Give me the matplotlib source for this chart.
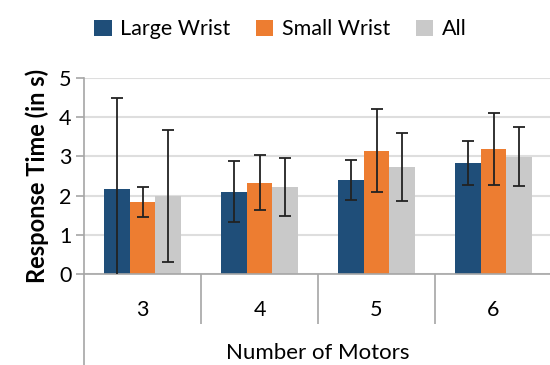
import numpy as np
import matplotlib
matplotlib.use('Agg')
from matplotlib import pyplot as plt
from matplotlib.lines import Line2D

plt.rcParams['font.family'] = ['Lato', 'DejaVu Sans']

motors = ['3', '4', '5', '6']
series = ['Large Wrist', 'Small Wrist', 'All']
large = [2.17, 2.10, 2.40, 2.84]
large_err = [2.32, 0.78, 0.52, 0.56]
small = [1.83, 2.33, 3.14, 3.18]
small_err = [0.38, 0.71, 1.06, 0.92]
all_ = [1.99, 2.23, 2.73, 2.99]
all_err = [1.68, 0.74, 0.86, 0.75]
colors = ['#1f4e79', '#ed7d31', '#c9c9c9']

fig = plt.figure(figsize=(5.5, 3.65), dpi=100)
ax = fig.add_axes([84/550, 1-274/365, 468/550, (274-78)/365])

x = np.arange(len(motors))
w = 0.22
for i, (vals, errs) in enumerate([(large, large_err), (small, small_err), (all_, all_err)]):
    ax.bar(x + (i-1)*w, vals, w, color=colors[i], label=series[i], zorder=2)
    ax.errorbar(x + (i-1)*w, vals, yerr=errs, fmt='none', ecolor='#222222',
                elinewidth=1.3, capsize=4.5, capthick=1.3, zorder=3)

ax.set_xlim(-0.5, 3.5)
ax.set_ylim(0, 5)
ax.set_yticks(range(6))
ax.yaxis.grid(True, color='#dedede', lw=1.5, zorder=0)
ax.set_axisbelow(True)
for s in ['top', 'right']:
    ax.spines[s].set_visible(False)
ax.spines['left'].set_visible(False)
ax.spines['bottom'].set_color('#a6a6a6')
ax.spines['bottom'].set_linewidth(1.2)
ax.tick_params(axis='y', length=6, color='#a6a6a6', width=1.2, labelsize=15.5, pad=3)
ax.set_xticks(x)
ax.set_xticklabels(motors)
ax.tick_params(axis='x', which='major', length=0, labelsize=15.5, pad=19)
ax.set_xticks([0.5, 1.5, 2.5], minor=True)
ax.tick_params(axis='x', which='minor', length=36, color='#a6a6a6', width=1.2)

# left axis line running down through the category area
fig.add_artist(Line2D([84/550, 84/550], [0, 1-78/365], color='#a6a6a6', lw=1.2))

ax.set_xlabel('Number of Motors', fontsize=16, labelpad=10)
ax.set_ylabel('Response Time (in s)', fontsize=17, fontweight='bold', labelpad=7)

fig.legend(loc='upper center', bbox_to_anchor=(0.51, 1.0), ncol=3, frameon=False,
           fontsize=15.5, handlelength=0.8, handleheight=0.8, handletextpad=0.4,
           columnspacing=1.2)

fig.savefig('out.png', dpi=100)
